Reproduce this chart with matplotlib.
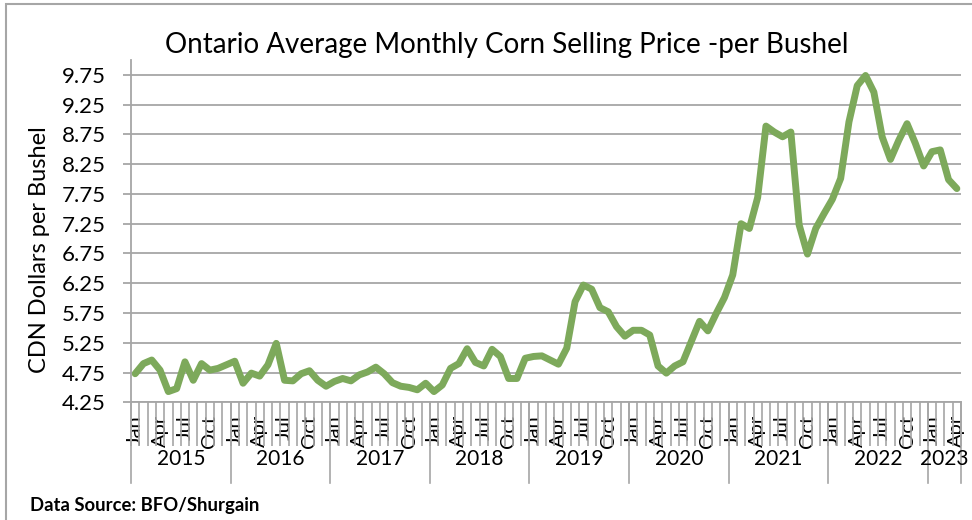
import matplotlib
matplotlib.use('Agg')
import matplotlib.pyplot as plt
from matplotlib.patches import Rectangle

plt.rcParams['font.family'] = ['Lato', 'DejaVu Sans']

# monthly prices, Jan 2015 .. Apr 2023
years = ['2015', '2016', '2017', '2018', '2019', '2020', '2021', '2022', '2023']
months = ['Jan', 'Feb', 'Mar', 'Apr', 'May', 'Jun', 'Jul', 'Aug', 'Sep', 'Oct', 'Nov', 'Dec']
prices = [
    4.73, 4.90, 4.96, 4.79, 4.43, 4.48, 4.93, 4.62, 4.90, 4.79, 4.82, 4.88,  # 2015
    4.94, 4.57, 4.74, 4.69, 4.88, 5.24, 4.62, 4.61, 4.73, 4.78, 4.62, 4.52,  # 2016
    4.60, 4.65, 4.61, 4.71, 4.76, 4.84, 4.73, 4.58, 4.52, 4.50, 4.46, 4.57,  # 2017
    4.43, 4.54, 4.82, 4.90, 5.15, 4.92, 4.86, 5.14, 5.02, 4.65, 4.65, 4.99,  # 2018
    5.02, 5.03, 4.96, 4.89, 5.16, 5.94, 6.22, 6.15, 5.84, 5.77, 5.52, 5.36,  # 2019
    5.46, 5.46, 5.38, 4.86, 4.74, 4.86, 4.93, 5.27, 5.61, 5.45, 5.74, 6.01,  # 2020
    6.39, 7.25, 7.17, 7.69, 8.89, 8.79, 8.71, 8.79, 7.23, 6.74, 7.17, 7.42,  # 2021
    7.66, 8.01, 8.96, 9.57, 9.74, 9.46, 8.71, 8.33, 8.65, 8.93, 8.60, 8.22,  # 2022
    8.46, 8.49, 7.99, 7.84,                                                  # 2023
]
yticks = [4.25, 4.75, 5.25, 5.75, 6.25, 6.75, 7.25, 7.75, 8.25, 8.75, 9.25, 9.75]

W, H = 972, 520
fig = plt.figure(figsize=(W / 100, H / 100), dpi=100)
fig.patches.append(Rectangle((6 / W, -0.1), 1.2, 1.1 - 4 / H, transform=fig.transFigure,
                             fill=False, edgecolor='#A6A6A6', linewidth=1.5))

ax = fig.add_axes([131 / W, (H - 402.3) / H, 830 / W, (402.3 - 60) / H])
n = len(prices)
x = list(range(n))
ax.plot(x, prices, color='#7DA95B', linewidth=5, solid_joinstyle='round', solid_capstyle='round')

grey = '#A6A6A6'
ax.set_xlim(-0.5, n - 0.5)
ax.set_ylim(4.25, 10.0)
ax.set_yticks(yticks)
ax.set_yticklabels([f'{v:.2f}' for v in yticks], fontsize=16)
ax.yaxis.grid(True, color=grey, linewidth=1.3)
ax.set_axisbelow(True)
ax.tick_params(axis='y', length=6, color=grey, width=1.3, pad=12)

for s in ['top', 'right']:
    ax.spines[s].set_visible(False)
for s in ['left', 'bottom']:
    ax.spines[s].set_color(grey)
    ax.spines[s].set_linewidth(1.3)

# month labels (every third month) and month boundary ticks
major = [i for i in range(n) if i % 3 == 0]
ax.set_xticks(major)
ax.set_xticklabels([months[i % 12] for i in major], rotation=90, fontsize=14.5)
ax.set_xticks([i - 0.5 for i in range(n + 1)], minor=True)
ax.tick_params(axis='x', which='major', length=0, pad=9)
ax.tick_params(axis='x', which='minor', length=31.5, color=grey, width=1.2)

# year level of the category axis
tr = ax.get_xaxis_transform()
bottom = -(483 - 402.3) / (402.3 - 60)
label_y = -(459 - 402.3) / (402.3 - 60)
for k, yr in enumerate(years):
    start = 12 * k - 0.5
    end = min(12 * (k + 1), n) - 0.5
    ax.plot([start, start], [0, bottom], transform=tr, color=grey, linewidth=1.2, clip_on=False)
    ax.text((start + end) / 2, label_y, yr, transform=tr, ha='center', va='center', fontsize=15)
ax.plot([n - 0.5, n - 0.5], [0, bottom], transform=tr, color=grey, linewidth=1.2, clip_on=False)

fig.text(507 / W, 1 - 45 / H, 'Ontario Average Monthly Corn Selling Price -per Bushel',
         ha='center', va='center', fontsize=20)
fig.text(40 / W, 1 - 250 / H, 'CDN Dollars per Bushel', rotation=90,
         ha='center', va='center', fontsize=17)
fig.text(30 / W, 1 - 505 / H, 'Data Source: BFO/Shurgain', ha='left', va='center',
         fontsize=13.3, fontweight='bold')

fig.savefig('out.png', dpi=100)
